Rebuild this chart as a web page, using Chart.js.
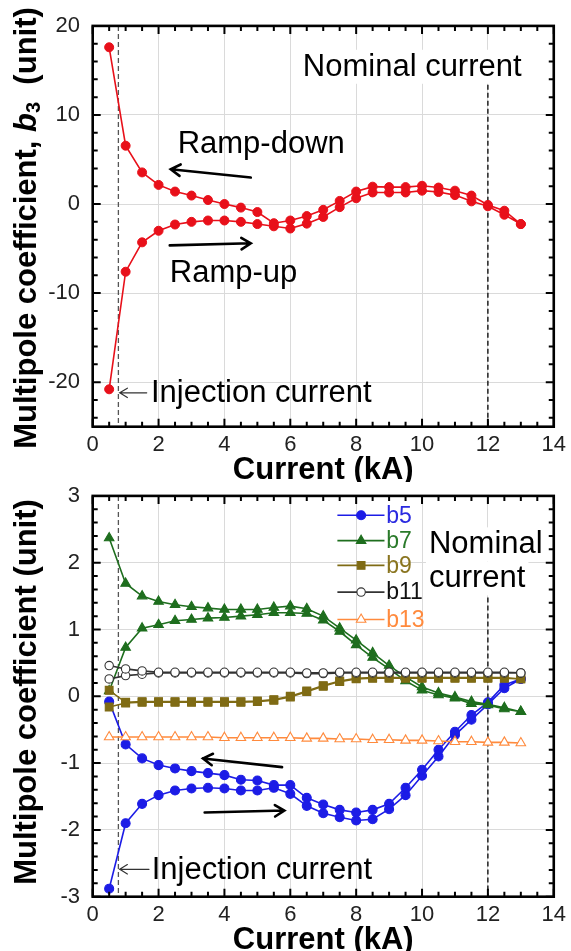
<!DOCTYPE html>
<html>
<head>
<meta charset="utf-8">
<title>Multipole coefficients vs current</title>
<script src="https://cdn.jsdelivr.net/npm/chart.js@4.4.1/dist/chart.umd.min.js"></script>
<style>
  html, body { margin: 0; padding: 0; background: #fff; }
  #wrap { position: relative; width: 571px; height: 951px; }
  .panel { position: absolute; left: 0; width: 571px; }
  #topPanel { top: 0; height: 482px; }
  #bottomPanel { top: 470px; height: 481px; }
</style>
</head>
<body>
<div id="wrap">
  <div class="panel" id="topPanel"><canvas id="b3Chart"></canvas></div>
  <div class="panel" id="bottomPanel"><canvas id="highChart"></canvas></div>
</div>
<script>
// Current steps (kA), shared by every series
const currents = [0.5, 1, 1.5, 2, 2.5, 3, 3.5, 4, 4.5, 5, 5.5, 6, 6.5, 7, 7.5, 8, 8.5, 9, 9.5, 10, 10.5, 11, 11.5, 12, 12.5, 13];

// b3 (top panel)
const b3Up = [-20.8, -7.6, -4.3, -3.0, -2.3, -2.0, -1.85, -1.85, -2.0, -2.25, -2.5, -2.75, -2.2, -1.45, -0.35, 0.65, 1.3, 1.3, 1.3, 1.5, 1.35, 1.0, 0.3, -0.25, -1.2, -2.25];
const b3Down = [17.6, 6.55, 3.55, 2.15, 1.4, 0.95, 0.45, 0.0, -0.4, -0.9, -2.15, -1.85, -1.35, -0.65, 0.35, 1.4, 1.95, 1.9, 1.9, 2.05, 1.85, 1.5, 0.95, -0.1, -0.75, -2.25];

// higher harmonics (bottom panel)
const b5Up = [-2.88, -1.9, -1.61, -1.48, -1.41, -1.38, -1.37, -1.38, -1.41, -1.41, -1.37, -1.46, -1.64, -1.75, -1.81, -1.86, -1.84, -1.69, -1.48, -1.19, -0.9, -0.58, -0.35, -0.12, 0.12, 0.26];
const b5Down = [-0.08, -0.72, -0.93, -1.03, -1.08, -1.12, -1.15, -1.18, -1.25, -1.26, -1.33, -1.33, -1.52, -1.62, -1.7, -1.74, -1.7, -1.61, -1.37, -1.1, -0.8, -0.53, -0.28, -0.09, 0.17, 0.26];
const b7Up = [0.08, 0.73, 1.02, 1.07, 1.13, 1.15, 1.17, 1.18, 1.2, 1.22, 1.25, 1.25, 1.24, 1.14, 0.97, 0.77, 0.58, 0.41, 0.23, 0.09, 0.02, -0.03, -0.11, -0.13, -0.19, -0.23];
const b7Down = [2.37, 1.69, 1.5, 1.42, 1.37, 1.34, 1.32, 1.3, 1.3, 1.3, 1.33, 1.35, 1.31, 1.2, 1.02, 0.84, 0.65, 0.46, 0.29, 0.14, 0.05, -0.01, -0.08, -0.12, -0.17, -0.23];
const b9Up = [-0.16, -0.1, -0.09, -0.09, -0.09, -0.09, -0.09, -0.09, -0.09, -0.08, -0.06, -0.01, 0.07, 0.15, 0.22, 0.26, 0.27, 0.27, 0.27, 0.27, 0.27, 0.27, 0.27, 0.27, 0.27, 0.26];
const b9Down = [0.09, -0.09, -0.08, -0.08, -0.08, -0.08, -0.08, -0.08, -0.08, -0.07, -0.05, 0.0, 0.08, 0.16, 0.23, 0.27, 0.28, 0.28, 0.28, 0.28, 0.28, 0.28, 0.28, 0.28, 0.28, 0.26];
const b11Up = [0.26, 0.31, 0.33, 0.35, 0.35, 0.35, 0.35, 0.35, 0.35, 0.35, 0.35, 0.35, 0.34, 0.34, 0.35, 0.35, 0.35, 0.35, 0.35, 0.35, 0.35, 0.35, 0.35, 0.35, 0.35, 0.35];
const b11Down = [0.46, 0.41, 0.38, 0.36, 0.36, 0.36, 0.36, 0.36, 0.36, 0.36, 0.36, 0.36, 0.35, 0.35, 0.36, 0.36, 0.36, 0.36, 0.36, 0.36, 0.36, 0.36, 0.36, 0.36, 0.36, 0.35];
const b13 = [-0.61, -0.61, -0.61, -0.61, -0.61, -0.61, -0.61, -0.62, -0.62, -0.62, -0.62, -0.62, -0.63, -0.63, -0.64, -0.64, -0.65, -0.65, -0.66, -0.66, -0.67, -0.68, -0.68, -0.69, -0.69, -0.7];

// axis ticks
const xTicks = [0, 2, 4, 6, 8, 10, 12, 14];
const b3Ticks = [-20, -10, 0, 10, 20];
const highTicks = [-3, -2, -1, 0, 1, 2, 3];

const injectionCurrent = 0.78;
const nominalCurrent = 12;

const FONT = "'Liberation Sans', Arial, Helvetica, sans-serif";

function loopPoints(up, down) {
  const pts = up.map((v, i) => ({ x: currents[i], y: v }));
  if (down) {
    for (let i = down.length - 1; i >= 0; i--) pts.push({ x: currents[i], y: down[i] });
  }
  return pts;
}

function drawMarker(ctx, style, x, y, r, fill, stroke, lw) {
  ctx.beginPath();
  if (style === "rect") {
    const s = r * Math.SQRT1_2;
    ctx.rect(x - s, y - s, 2 * s, 2 * s);
  } else if (style === "triangle") {
    ctx.moveTo(x, y - r);
    ctx.lineTo(x + r * Math.sin(2 * Math.PI / 3), y - r * Math.cos(2 * Math.PI / 3));
    ctx.lineTo(x + r * Math.sin(4 * Math.PI / 3), y - r * Math.cos(4 * Math.PI / 3));
    ctx.closePath();
  } else {
    ctx.arc(x, y, r, 0, Math.PI * 2);
  }
  ctx.fillStyle = fill;
  ctx.fill();
  ctx.lineWidth = lw;
  ctx.strokeStyle = stroke;
  ctx.stroke();
}

function drawArrow(ctx, x1, y1, x2, y2, width, color, head) {
  const ang = Math.atan2(y2 - y1, x2 - x1);
  ctx.strokeStyle = color;
  ctx.lineWidth = width;
  ctx.lineCap = "round";
  ctx.beginPath();
  ctx.moveTo(x1, y1);
  ctx.lineTo(x2, y2);
  ctx.moveTo(x2 - head * Math.cos(ang - 0.55), y2 - head * Math.sin(ang - 0.55));
  ctx.lineTo(x2, y2);
  ctx.lineTo(x2 - head * Math.cos(ang + 0.55), y2 - head * Math.sin(ang + 0.55));
  ctx.stroke();
}

// annotations, frame ticks, y title and inline legend
function makeDecor(cfg) {
  return {
    id: "decor",
    beforeDatasetsDraw(chart) {
      const { ctx, chartArea: a, scales: { x, y } } = chart;
      ctx.save();
      ctx.beginPath();
      ctx.rect(a.left, a.top, a.right - a.left, a.bottom - a.top);
      ctx.clip();

      cfg.vlines.forEach((v) => {
        ctx.setLineDash([5, 3]);
        ctx.lineWidth = 1.3;
        ctx.strokeStyle = v.color;
        const px = x.getPixelForValue(v.x);
        ctx.beginPath();
        ctx.moveTo(px, y.getPixelForValue(v.from));
        ctx.lineTo(px, y.getPixelForValue(v.to));
        ctx.stroke();
      });
      ctx.setLineDash([]);

      ctx.font = "31px " + FONT;
      ctx.textBaseline = "alphabetic";
      ctx.textAlign = "left";
      cfg.texts.forEach((t) => {
        const px = x.getPixelForValue(t.x);
        const py = y.getPixelForValue(t.y);
        if (t.box) {
          const w = ctx.measureText(t.text).width;
          ctx.fillStyle = "#fff";
          ctx.fillRect(px - 3, py - 26, w + 6, 34);
        }
        ctx.fillStyle = "#000";
        ctx.fillText(t.text, px, py);
      });

      cfg.arrows.forEach((ar) => {
        drawArrow(ctx, x.getPixelForValue(ar.from[0]), y.getPixelForValue(ar.from[1]),
          x.getPixelForValue(ar.to[0]), y.getPixelForValue(ar.to[1]), ar.width, ar.color, ar.head);
      });
      ctx.restore();
    },
    afterDatasetsDraw(chart) {
      if (!cfg.legend) return;
      const { ctx, scales: { x, y } } = chart;
      ctx.save();
      cfg.legend.forEach((item) => {
        const ds = chart.data.datasets[item.index];
        const py = y.getPixelForValue(item.y);
        ctx.strokeStyle = ds.borderColor;
        ctx.lineWidth = ds.borderWidth;
        ctx.beginPath();
        ctx.moveTo(x.getPixelForValue(cfg.legendLine[0]), py);
        ctx.lineTo(x.getPixelForValue(cfg.legendLine[1]), py);
        ctx.stroke();
        drawMarker(ctx, ds.pointStyle, x.getPixelForValue(cfg.legendMarker), py, ds.pointRadius,
          ds.pointBackgroundColor, ds.pointBorderColor, ds.pointBorderWidth);
        ctx.font = "23px " + FONT;
        ctx.textBaseline = "middle";
        ctx.textAlign = "left";
        ctx.fillStyle = item.color;
        ctx.fillText(ds.label, x.getPixelForValue(cfg.legendText), py + 1);
      });
      ctx.restore();
    },
    afterDraw(chart) {
      const { ctx, chartArea: a, scales: { x, y } } = chart;
      ctx.save();
      ctx.strokeStyle = "#000";
      ctx.lineWidth = 2;
      ctx.beginPath();
      for (let v = 0; v <= 14 + 1e-9; v += 0.5) {
        const px = x.getPixelForValue(v);
        const len = Math.abs(v % 2) < 1e-9 ? 8 : 5;
        ctx.moveTo(px, a.bottom); ctx.lineTo(px, a.bottom - len);
        ctx.moveTo(px, a.top); ctx.lineTo(px, a.top + len);
      }
      for (let v = cfg.yMin; v <= cfg.yMax + 1e-9; v += cfg.yMinor) {
        const py = y.getPixelForValue(v);
        const major = Math.abs(v / cfg.yMajor - Math.round(v / cfg.yMajor)) < 1e-6;
        const len = major ? 8 : 5;
        ctx.moveTo(a.left, py); ctx.lineTo(a.left + len, py);
        ctx.moveTo(a.right, py); ctx.lineTo(a.right - len, py);
      }
      ctx.stroke();
      ctx.lineWidth = 2.6;
      ctx.strokeRect(a.left, a.top, a.right - a.left, a.bottom - a.top);

      // rotated y title
      ctx.translate(cfg.titleX, cfg.titleY);
      ctx.rotate(-Math.PI / 2);
      ctx.textBaseline = "alphabetic";
      ctx.textAlign = "left";
      ctx.fillStyle = "#000";
      let total = 0;
      cfg.yTitle.forEach((p) => { ctx.font = p.font; p.w = ctx.measureText(p.text).width; total += p.w; });
      let pos = -total / 2;
      cfg.yTitle.forEach((p) => { ctx.font = p.font; ctx.fillText(p.text, pos, p.dy || 0); pos += p.w; });
      ctx.restore();
    },
  };
}

function baseOptions(opts) {
  return {
    responsive: true,
    maintainAspectRatio: false,
    animation: false,
    layout: { padding: { top: opts.padTop, right: 16, left: 0, bottom: 0 } },
    plugins: { legend: { display: false }, tooltip: { enabled: false } },
    elements: { line: { tension: 0 } },
    scales: {
      x: {
        type: "linear",
        min: 0,
        max: 14,
        afterBuildTicks: (scale) => { scale.ticks = xTicks.map((v) => ({ value: v })); },
        afterFit: (scale) => { scale.height = opts.xHeight; },
        grid: { color: "#dadada", lineWidth: 1, drawTicks: false },
        border: { display: false },
        ticks: { padding: 5, autoSkip: false, maxRotation: 0, color: "#222", font: { family: FONT, size: 22 } },
        title: {
          display: true,
          text: "Current (kA)",
          color: "#000",
          font: { family: FONT, size: 31, weight: "bold", lineHeight: 1.2 },
          padding: { top: 0, bottom: opts.titlePad },
        },
      },
      y: {
        type: "linear",
        min: opts.yMin,
        max: opts.yMax,
        afterBuildTicks: (scale) => { scale.ticks = opts.yTicks.map((v) => ({ value: v })); },
        afterFit: (scale) => { scale.width = 92.7; },
        grid: { color: "#dadada", lineWidth: 1, drawTicks: false },
        border: { display: false },
        ticks: { padding: 12.7, color: "#222", font: { family: FONT, size: 22 } },
      },
    },
  };
}

const titleFont = "bold 31px " + FONT;

// top panel: b3
new Chart(document.getElementById("b3Chart"), {
  type: "line",
  data: {
    datasets: [
      {
        label: "b3",
        data: loopPoints(b3Up, b3Down),
        borderColor: "#e8101a",
        borderWidth: 1.6,
        pointStyle: "circle",
        pointRadius: 4.5,
        pointBackgroundColor: "#e8101a",
        pointBorderColor: "#e8101a",
        pointBorderWidth: 1,
      },
    ],
  },
  options: baseOptions({ padTop: 24, xHeight: 55.3, titlePad: -7, yMin: -25, yMax: 20, yTicks: b3Ticks }),
  plugins: [
    makeDecor({
      yMin: -24, yMax: 20, yMinor: 2, yMajor: 10,
      titleX: 36.4, titleY: 228,
      yTitle: [
        { text: "Multipole coefficient, ", font: titleFont },
        { text: "b", font: "italic bold 31px " + FONT },
        { text: "3", font: "bold 20px " + FONT, dy: 4 },
        { text: "  (unit)", font: titleFont },
      ],
      vlines: [
        { x: injectionCurrent, from: 20, to: -25, color: "#555" },
        { x: nominalCurrent, from: 13.4, to: -25, color: "#000" },
      ],
      texts: [
        { text: "Nominal current", x: 6.38, y: 14.4, box: true },
        { text: "Ramp-down", x: 2.58, y: 5.7 },
        { text: "Ramp-up", x: 2.34, y: -8.78 },
        { text: "Injection current", x: 1.77, y: -22.2 },
      ],
      arrows: [
        { from: [4.8, 2.98], to: [2.37, 3.91], width: 2.6, color: "#000", head: 11 },
        { from: [2.34, -4.64], to: [4.8, -4.41], width: 2.6, color: "#000", head: 11 },
        { from: [1.64, -21.2], to: [0.82, -21.2], width: 1.2, color: "#333", head: 9 },
      ],
    }),
  ],
});

// bottom panel: b5 .. b13
const seriesStyle = [
  { label: "b5", up: b5Up, down: b5Down, color: "#1c1ce6", style: "circle", r: 4.5, fill: "#1c1ce6" },
  { label: "b7", up: b7Up, down: b7Down, color: "#1e6e1e", style: "triangle", r: 5.5, fill: "#1e6e1e" },
  { label: "b9", up: b9Up, down: b9Down, color: "#7f6b14", style: "rect", r: 5.5, fill: "#7f6b14" },
  { label: "b11", up: b11Up, down: b11Down, color: "#333333", style: "circle", r: 4.2, fill: "#ffffff" },
  { label: "b13", up: b13, down: null, color: "#ff8a3d", style: "triangle", r: 5.5, fill: "#ffffff" },
];

new Chart(document.getElementById("highChart"), {
  type: "line",
  data: {
    datasets: seriesStyle.map((s, i) => ({
      label: s.label,
      data: loopPoints(s.up, s.down),
      order: seriesStyle.length - i,
      borderColor: s.color,
      borderWidth: 1.6,
      pointStyle: s.style,
      pointRadius: s.r,
      pointBackgroundColor: s.fill,
      pointBorderColor: s.color,
      pointBorderWidth: 1.1,
    })),
  },
  options: baseOptions({ padTop: 22.3, xHeight: 54.3, titlePad: -7.6, yMin: -3, yMax: 3, yTicks: highTicks }),
  plugins: [
    makeDecor({
      yMin: -3, yMax: 3, yMinor: 0.2, yMajor: 1,
      titleX: 36.4, titleY: 222,
      yTitle: [{ text: "Multipole coefficient (unit)", font: titleFont }],
      vlines: [
        { x: injectionCurrent, from: 3, to: -3, color: "#555" },
        { x: nominalCurrent, from: 1.48, to: -3, color: "#000" },
      ],
      texts: [
        { text: "Nominal", x: 10.21, y: 2.14, box: true },
        { text: "current", x: 10.21, y: 1.63, box: true },
        { text: "Injection current", x: 1.79, y: -2.73 },
      ],
      arrows: [
        { from: [5.75, -1.06], to: [3.35, -0.93], width: 2.6, color: "#000", head: 11 },
        { from: [3.4, -1.74], to: [5.82, -1.71], width: 2.6, color: "#000", head: 11 },
        { from: [1.71, -2.59], to: [0.82, -2.59], width: 1.2, color: "#333", head: 9 },
      ],
      legendLine: [7.43, 8.86],
      legendMarker: 8.15,
      legendText: 8.91,
      legend: [
        { index: 0, y: 2.71, color: "#2a2ae0" },
        { index: 1, y: 2.33, color: "#2a7a2a" },
        { index: 2, y: 1.96, color: "#8a7520" },
        { index: 3, y: 1.56, color: "#111111" },
        { index: 4, y: 1.15, color: "#ff8a3d" },
      ],
    }),
  ],
});
</script>
</body>
</html>
